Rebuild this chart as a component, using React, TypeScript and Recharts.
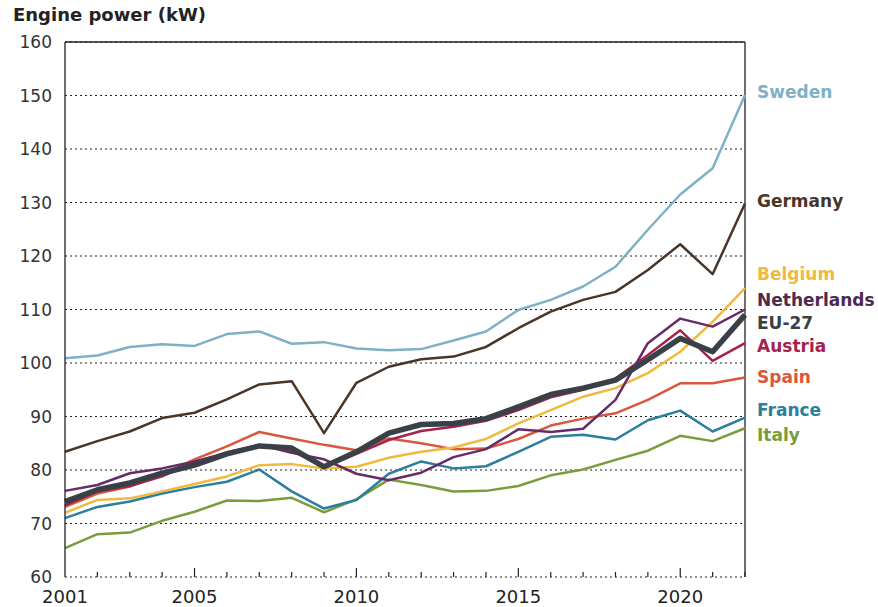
import React from "react";
import {
  LineChart,
  Line,
  XAxis,
  YAxis,
  CartesianGrid,
  ReferenceLine,
} from "recharts";

// Engine power (kW) of new cars, 2001-2022
const years = [
  2001, 2002, 2003, 2004, 2005, 2006, 2007, 2008, 2009, 2010, 2011,
  2012, 2013, 2014, 2015, 2016, 2017, 2018, 2019, 2020, 2021, 2022,
];
const labelledYears = [2001, 2005, 2010, 2015, 2020];
const yTicks = [60, 70, 80, 90, 100, 110, 120, 130, 140, 150, 160];

const sweden = [100.9, 101.4, 103.0, 103.5, 103.2, 105.4, 105.9, 103.6, 103.9, 102.7, 102.4, 102.6, 104.2, 105.9, 109.9, 111.8, 114.3, 118.0, 124.9, 131.5, 136.4, 150.1];
const germany = [83.4, 85.4, 87.2, 89.7, 90.7, 93.2, 96.0, 96.6, 86.9, 96.3, 99.3, 100.7, 101.2, 103.0, 106.5, 109.6, 111.8, 113.3, 117.4, 122.2, 116.6, 129.8];
const belgium = [72.0, 74.4, 74.7, 76.0, 77.4, 78.8, 80.9, 81.1, 80.3, 80.6, 82.3, 83.4, 84.2, 85.8, 88.7, 91.2, 93.7, 95.3, 98.1, 102.1, 107.7, 114.0];
const netherlands = [76.1, 77.2, 79.4, 80.3, 81.6, 83.1, 84.7, 83.2, 82.0, 79.3, 78.1, 79.5, 82.4, 83.9, 87.6, 87.1, 87.7, 93.1, 103.7, 108.3, 106.8, 110.0];
const eu27 = [74.1, 76.3, 77.6, 79.4, 80.9, 83.0, 84.5, 84.1, 80.6, 83.4, 86.9, 88.5, 88.7, 89.6, 91.8, 94.1, 95.3, 96.8, 100.6, 104.6, 102.1, 109.0];
const austria = [73.4, 76.0, 77.0, 78.8, 81.5, 83.3, 84.6, 83.6, 80.5, 83.0, 85.6, 87.3, 88.1, 89.2, 91.2, 93.6, 95.0, 97.1, 101.5, 106.1, 100.4, 103.7];
const spain = [73.1, 75.6, 76.9, 79.1, 82.0, 84.4, 87.1, 85.9, 84.7, 83.7, 85.9, 85.0, 83.9, 84.0, 85.8, 88.3, 89.6, 90.6, 93.1, 96.2, 96.2, 97.3];
const france = [71.0, 73.1, 74.1, 75.6, 76.8, 77.8, 80.1, 76.0, 72.8, 74.4, 79.3, 81.6, 80.3, 80.7, 83.4, 86.2, 86.6, 85.7, 89.3, 91.1, 87.2, 89.8];
const italy = [65.4, 68.0, 68.3, 70.5, 72.2, 74.3, 74.2, 74.8, 72.1, 74.5, 78.2, 77.2, 76.0, 76.1, 77.0, 79.0, 80.1, 81.9, 83.6, 86.4, 85.4, 87.8];

// drawing order: bottom to top, EU-27 last so the thick line sits on top
const series = [
  { key: "Sweden", values: sweden, color: "#7fb1c5", text: "#7fb1c5", width: 2.5, dy: -3 },
  { key: "Germany", values: germany, color: "#4a3529", text: "#4a3529", width: 2.5, dy: -3 },
  { key: "Italy", values: italy, color: "#7b9c3c", text: "#7b9c3c", width: 2.5, dy: 7 },
  { key: "France", values: france, color: "#2b7e9c", text: "#2b7e9c", width: 2.5, dy: -8 },
  { key: "Spain", values: spain, color: "#d9573a", text: "#d9573a", width: 2.5, dy: 0 },
  { key: "Belgium", values: belgium, color: "#f0b93f", text: "#f0b93f", width: 2.5, dy: -14 },
  { key: "Austria", values: austria, color: "#a5234b", text: "#a5234b", width: 2.5, dy: 3 },
  { key: "Netherlands", values: netherlands, color: "#662b68", text: "#4e2a50", width: 2.5, dy: -10 },
  { key: "EU-27", values: eu27, color: "#3a4047", text: "#3a4047", width: 5.5, dy: 8 },
];

const data = years.map((year, i) => {
  const row: Record<string, number> = { year };
  series.forEach((s) => {
    row[s.key] = s.values[i];
  });
  return row;
});

const FONT = "'DejaVu Sans', sans-serif";

const XTick = (props: any) => {
  const { x, y, payload } = props;
  const v = payload.value;
  const big = v % 5 === 0;
  const showLabel = labelledYears.includes(v);
  return (
    <g>
      {v !== 2001 && (
        <line x1={x} x2={x} y1={y} y2={y - (big ? 9 : 5)} stroke="#222" strokeWidth={1.2} />
      )}
      {showLabel && (
        <text x={x} y={y + 26} textAnchor="middle" fill="#222" fontSize={18} fontFamily={FONT}>
          {v}
        </text>
      )}
    </g>
  );
};

const makeEndLabel = (s: (typeof series)[number]) => (props: any) => {
  const { x, y, index } = props;
  if (index !== years.length - 1) return null;
  return (
    <text
      x={x + 12}
      y={y + s.dy}
      fill={s.text}
      fontSize={17}
      fontWeight={700}
      fontFamily={FONT}
      dominantBaseline="central"
    >
      {s.key}
    </text>
  );
};

export default function App() {
  return (
    <div style={{ position: "absolute", left: 0, top: 0, width: 878, height: 607, background: "#fff" }}>
      <div
        style={{
          position: "absolute",
          left: 13,
          top: 4,
          fontFamily: FONT,
          fontWeight: 700,
          fontSize: 18,
          color: "#222",
        }}
      >
        Engine power (kW)
      </div>
      <LineChart
        width={878}
        height={607}
        data={data}
        margin={{ top: 42, right: 133, bottom: 0, left: 0 }}
      >
        <CartesianGrid
          vertical={false}
          stroke="#222"
          strokeDasharray="2 3"
          strokeWidth={1.2}
        />
        <XAxis
          dataKey="year"
          type="number"
          domain={[2001, 2022]}
          ticks={years}
          interval={0}
          tick={<XTick />}
          tickLine={false}
          axisLine={false}
          tickSize={0}
          tickMargin={0}
          height={30}
        />
        <YAxis
          domain={[60, 160]}
          ticks={yTicks}
          interval={0}
          width={65}
          tickLine={false}
          tickSize={0}
          tickMargin={13}
          axisLine={{ stroke: "#222", strokeWidth: 1.3 }}
          tick={{ fill: "#333", fontSize: 17, fontFamily: FONT }}
        />
        <ReferenceLine y={160} stroke="#222" strokeWidth={1.3} />
        <ReferenceLine x={2022} stroke="#222" strokeWidth={1.3} />
        {series.map((s) => (
          <Line
            key={s.key}
            type="linear"
            dataKey={s.key}
            stroke={s.color}
            strokeWidth={s.width}
            dot={false}
            activeDot={false}
            strokeLinejoin="round"
            isAnimationActive={false}
            label={makeEndLabel(s)}
          />
        ))}
      </LineChart>
    </div>
  );
}
